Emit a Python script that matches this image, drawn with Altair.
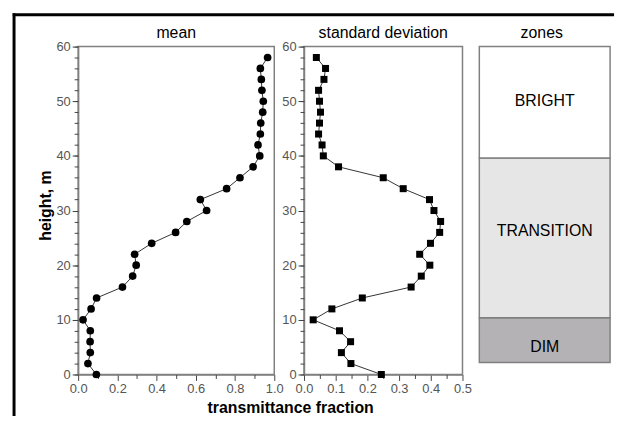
import altair as alt
import pandas as pd

# ---------------- data ----------------
heights = list(range(0, 60, 2))
mean_vals = [0.093, 0.050, 0.062, 0.061, 0.062, 0.025, 0.066, 0.094, 0.226, 0.278,
             0.296, 0.288, 0.375, 0.497, 0.554, 0.655, 0.623, 0.757, 0.825, 0.892,
             0.926, 0.917, 0.929, 0.931, 0.941, 0.944, 0.937, 0.934, 0.929, 0.966]
std_vals = [0.244, 0.148, 0.118, 0.147, 0.112, 0.029, 0.088, 0.184, 0.338, 0.370,
            0.397, 0.365, 0.399, 0.428, 0.431, 0.410, 0.396, 0.313, 0.250, 0.109,
            0.061, 0.057, 0.046, 0.049, 0.052, 0.049, 0.046, 0.063, 0.068, 0.039]

zone_names = ["DIM", "TRANSITION", "BRIGHT"]
zone_bottom = [2.2, 10.4, 39.6]
zone_top = [10.4, 39.6, 60.0]
zone_label_y = [5.0, 26.2, 50.0]
zone_colors = ["#b4b2b4", "#e6e6e6", "#ffffff"]

panel_titles = ["mean", "standard deviation", "zones"]

mean_major = [0.0, 0.2, 0.4, 0.6, 0.8, 1.0]
mean_minor = [0.1, 0.3, 0.5, 0.7, 0.9]
std_major = [0.0, 0.1, 0.2, 0.3, 0.4, 0.5]
std_minor = [0.05, 0.15, 0.25, 0.35, 0.45]
y_major = [0, 10, 20, 30, 40, 50, 60]
y_minor = list(range(0, 61, 2))

mean_df = pd.DataFrame({"height": heights, "value": mean_vals})
std_df = pd.DataFrame({"height": heights, "value": std_vals})
zone_df = pd.DataFrame({"zone": zone_names, "bottom": zone_bottom, "top": zone_top,
                        "label_y": zone_label_y})

W_MEAN, W_STD, H = 198, 160, 331
GAP = 30          # gap between the mean and std plot areas
Z_SHIFT = 13      # zones box starts 17px after std (30 - 13)
W_ZBOX = 132
FONT = "Liberation Sans"
GRAY = "#808080"

y_scale = alt.Scale(domain=[0, 60], nice=False, zero=False, padding=0)
one = alt.Data(values=[{}])


def title_mark(text, xpos):
    return alt.Chart(one).mark_text(
        text=text, font=FONT, fontSize=16, color="black", align="center",
        baseline="alphabetic").encode(x=alt.value(xpos), y=alt.value(-8.4))


def major_y(title=None):
    kw = dict(values=y_major, orient="left", tickSize=6, labelPadding=2, format="d",
              labelFlush=False)
    if title:
        kw.update(title=title, titleX=-33, titleY=160, titleAlign="center",
                  titleBaseline="middle", titleAngle=270)
    else:
        kw.update(title=None)
    return alt.Axis(**kw)


minor_y = alt.Axis(values=y_minor, orient="left", tickSize=4, labels=False,
                   domain=False, title=None)


def panel(df, shape, size, domain, major, minor, xtitle=None):
    xs = alt.Scale(domain=domain, nice=False, zero=False, padding=0)
    base = alt.Chart(df)
    if xtitle:
        xmaj = alt.Axis(values=major, orient="bottom", tickSize=6, labelPadding=2,
                        format=".1f", labelFlush=False, title=xtitle, titleX=214,
                        titleY=38, titleAlign="center", titleBaseline="alphabetic")
    else:
        xmaj = alt.Axis(values=major, orient="bottom", tickSize=6, labelPadding=2,
                        format=".1f", labelFlush=False, title=None)
    xmin = alt.Axis(values=minor, orient="bottom", tickSize=4, labels=False,
                    domain=False, title=None)
    line = base.mark_line(color="#333333", strokeWidth=1).encode(
        x=alt.X("value:Q", scale=xs, axis=xmaj),
        y=alt.Y("height:Q", scale=y_scale, axis=major_y("height, m" if xtitle else None)),
        order="height:Q",
    )
    pts = base.mark_point(shape=shape, filled=True, size=size, color="black",
                          opacity=1).encode(
        x=alt.X("value:Q", scale=xs, axis=None),
        y=alt.Y("height:Q", scale=y_scale, axis=None),
    )
    ticks = base.mark_point(opacity=0).encode(
        x=alt.X("value:Q", scale=xs, axis=xmin),
        y=alt.Y("height:Q", scale=y_scale, axis=minor_y),
    )
    return [line, ticks, pts]


frame_left = alt.Chart(one).mark_rule(color="black", strokeWidth=3).encode(
    x=alt.value(-64.7), y=alt.value(-33.7), y2=alt.value(373))
frame_top = alt.Chart(one).mark_rule(color="black", strokeWidth=3).encode(
    x=alt.value(-66), x2=alt.value(541), y=alt.value(-32.2))

mean_chart = alt.layer(
    *panel(mean_df, "circle", 60, [0, 1], mean_major, mean_minor, "transmittance fraction"),
    title_mark(panel_titles[0], W_MEAN / 2),
    frame_left, frame_top,
).resolve_axis(x="independent", y="independent").properties(width=W_MEAN, height=H)

std_chart = alt.layer(
    *panel(std_df, "square", 50, [0, 0.5], std_major, std_minor),
    title_mark(panel_titles[1], W_STD / 2),
).resolve_axis(x="independent", y="independent").properties(width=W_STD, height=H)

zbase = alt.Chart(zone_df)
zy = alt.Scale(domain=[0, 60], nice=False, zero=False, padding=0)
rects = zbase.mark_rect(stroke=GRAY, strokeWidth=1.5).encode(
    x=alt.value(-Z_SHIFT), x2=alt.value(W_ZBOX - Z_SHIFT),
    y=alt.Y("bottom:Q", scale=zy, axis=None), y2="top:Q",
    color=alt.Color("zone:N", scale=alt.Scale(domain=zone_names, range=zone_colors),
                    legend=None),
)
labels = zbase.mark_text(fontSize=16, font=FONT, color="black").encode(
    x=alt.value(W_ZBOX / 2 - Z_SHIFT),
    y=alt.Y("label_y:Q", scale=zy, axis=None),
    text="zone:N",
)
zones_chart = alt.layer(
    rects, labels, title_mark(panel_titles[2], W_ZBOX / 2 - Z_SHIFT - 3),
).properties(width=W_ZBOX - Z_SHIFT, height=H,
             view=alt.ViewConfig(stroke="transparent"))

chart = alt.hconcat(mean_chart, std_chart, zones_chart, spacing=GAP, bounds="flush").properties(
    padding={"left": 1.8, "top": 1, "right": 2, "bottom": 0},
    background="white",
).configure_view(
    stroke=GRAY, strokeWidth=1.5,
).configure_axis(
    domainColor=GRAY, domainWidth=1.5, tickColor="#444444", tickWidth=1,
    labelColor="#555555", labelFont=FONT, labelFontSize=13,
    titleFont=FONT, titleFontSize=16, titleFontWeight="bold", titleColor="black",
    grid=False,
)

chart.save("out.html", embed_options={"renderer": "svg", "actions": False})
